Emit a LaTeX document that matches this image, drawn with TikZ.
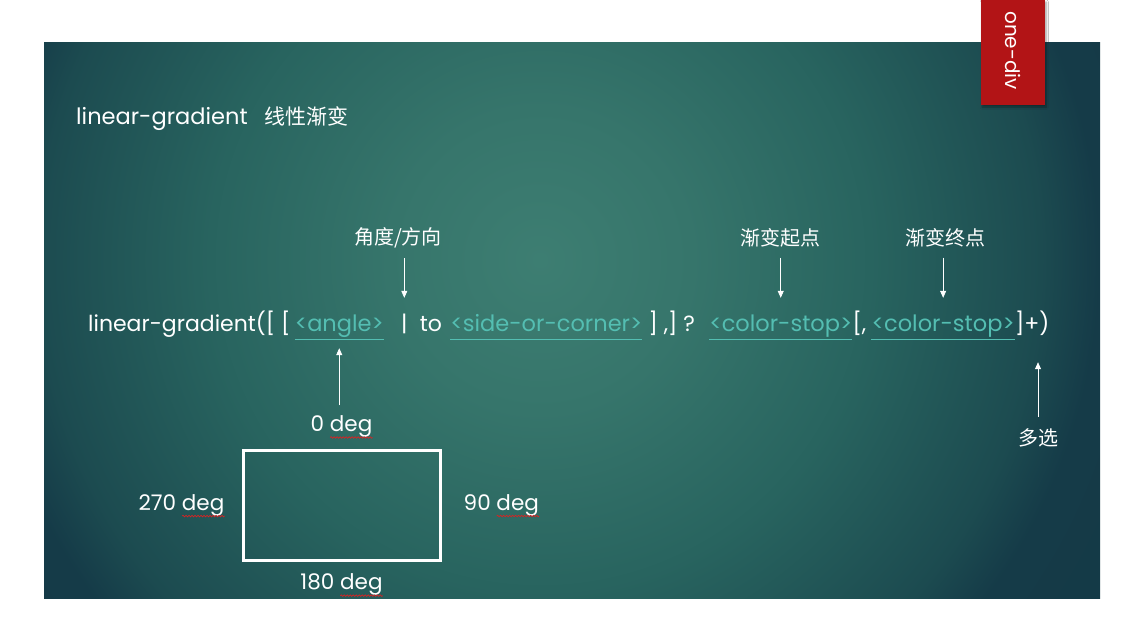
\documentclass[tikz,border=0pt]{standalone}
\usepackage{fontspec}
\setmainfont{Poppins}
\newfontfamily\cjk{Noto Sans CJK SC}
\usetikzlibrary{positioning,arrows.meta,shadows.blur,decorations.pathmorphing}

\definecolor{tabred}{RGB}{178,20,22}
\definecolor{linkteal}{RGB}{84,190,178}
\definecolor{spellred}{RGB}{215,35,35}

% glow of the slide, centre light, edges dark
\pgfdeclareradialshading{slideglow}{\pgfpoint{0bp}{0bp}}{%
    rgb(0bp)=(0.240,0.494,0.447);
    rgb(5.4bp)=(0.212,0.459,0.420);
    rgb(11.8bp)=(0.157,0.392,0.373);
    rgb(17.9bp)=(0.110,0.294,0.314);
    rgb(20bp)=(0.082,0.231,0.282);
    rgb(25bp)=(0.078,0.224,0.275)}

\newcommand\degfont{\fontsize{21.5}{24}\selectfont}
\newlength\degw

\begin{document}
\settowidth{\degw}{\degfont deg}%
\begin{tikzpicture}[x=1pt, y=-1pt,
    every node/.style={inner sep=0pt, text=white},
    txt/.style={font=\fontsize{22}{26}\selectfont, text height=17pt, text depth=5pt},
    link/.style={txt, font=\fontsize{22.5}{26}\selectfont, text=linkteal},
    uline/.style={linkteal, line width=1.1pt},
    lbl/.style={font=\fontsize{20}{24}\selectfont\cjk},
    deglbl/.style={font=\degfont},
    spell/.style={spellred, line width=0.7pt,
        decorate, decoration={snake, amplitude=0.8pt, segment length=3pt}},
    arr/.style={-{Triangle[width=6pt,length=7pt]}, white, line width=0.8pt}]

    \useasboundingbox (0,0) rectangle (1145,641);
    \fill[white] (0,0) rectangle (1145,641);
    \begin{scope}
        \clip (44,42) rectangle (1100,598);
        \shade[shading=slideglow] (540,260) circle (700);
    \end{scope}

    % tab in the corner
    \node[fill=tabred, minimum width=64pt, minimum height=105pt,
        anchor=north west,
        blur shadow={shadow xshift=1pt, shadow yshift=-2pt, shadow blur steps=5}
    ](tab) at (981,0) {};
    \node[rotate=-90, font=\fontsize{20}{24}\selectfont] (tabtext) at ([yshift=2pt]tab) {one-div};

    \node[anchor=base west, font=\fontsize{22.5}{26}\selectfont]
        (title) at (76,124) {linear-gradient\hspace{17pt}{\cjk\fontsize{21}{24}\selectfont 线性渐变}};

    % the syntax line
    \node[txt, anchor=base west] (head) at (88,331) {linear-gradient([ [};
    \node[link, base right=4pt of head] (angle) {<angle>};
    \node[txt, base right=17pt of angle] (bar) {|};
    \node[txt, base right=12pt of bar] (to) {to};
    \node[link, base right=8pt of to] (side) {<side-or-corner>};
    \node[txt, base right=6pt of side] (mid) {] ,] ?};
    \node[link, base right=14pt of mid] (stopa) {<color-stop>};
    \node[txt, base right=0pt of stopa] (sep) {[,};
    \node[link, base right=5pt of sep] (stopb) {<color-stop>};
    \node[txt, base right=0pt of stopb] (tail) {]+)};
    \foreach \n in {angle, side, stopa, stopb}
        \draw[uline] ([yshift=-3pt]\n.south west) -- ([yshift=-3pt]\n.south east);

    % labels above
    \node[lbl] (dir) at (398,238) {角度/方向};
    \node[lbl] (start) at (780,238) {渐变起点};
    \node[lbl] (stop) at (945,238) {渐变终点};
    \draw[arr] ([yshift=-10pt]dir.south -| bar) -- ([yshift=16pt]bar.north);
    \draw[arr] ([yshift=-10pt]start.south -| stopa) -- ([yshift=16pt]stopa.north);
    \draw[arr] ([yshift=-10pt]stop.south -| stopb) -- ([yshift=16pt]stopb.north);

    % the box of directions
    \node[draw=white, line width=3pt, minimum width=197pt, minimum height=110pt]
        (box) at (341.5,505) {};
    \node[deglbl, above=11pt of box] (zero) {0 deg};
    \node[deglbl, left=17pt of box] (left) {270 deg};
    \node[deglbl, right=22pt of box] (right) {90 deg};
    \node[deglbl, below=12pt of box] (down) {180 deg};
    \foreach \n in {zero, left, right, down}
        \draw[spell] ([xshift=-\degw, yshift=-6pt]\n.base east) -- ([yshift=-6pt]\n.base east);
    \draw[arr] ([yshift=10pt]zero.north -| angle) -- ([yshift=-12pt]angle.south);

    \node[lbl] (multi) at (1038,438) {多选};
    \draw[arr] ([yshift=12pt]multi.north) -- ([yshift=-26pt]multi.north |- tail.south);
\end{tikzpicture}
\end{document}
